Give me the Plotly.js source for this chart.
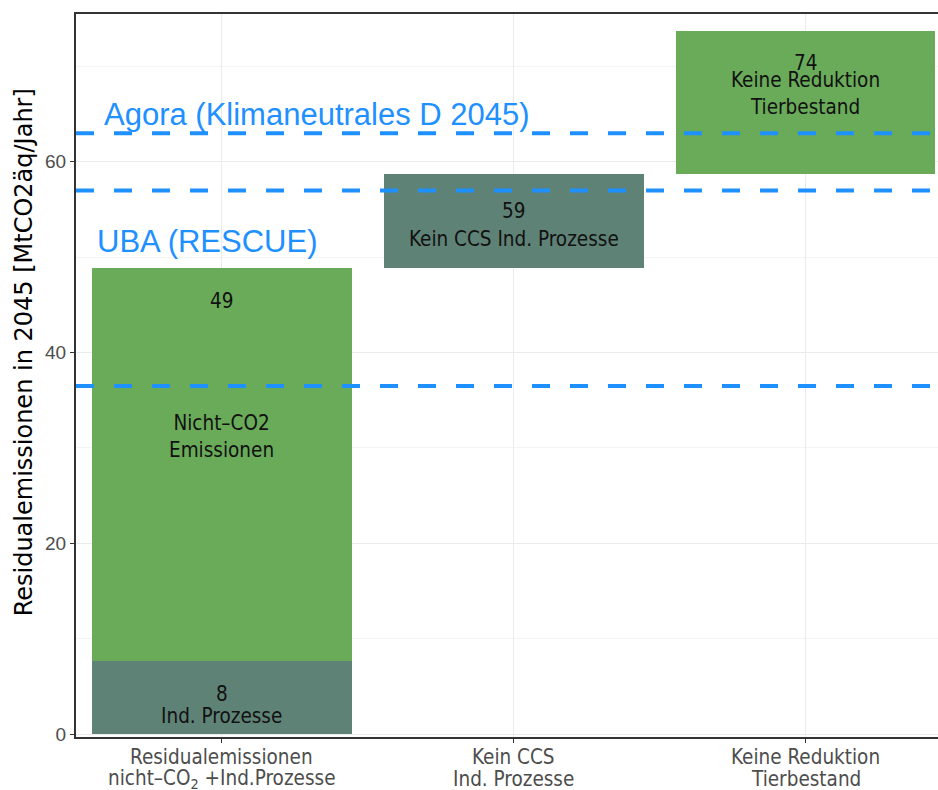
<!DOCTYPE html>
<html>
<head>
<meta charset="utf-8">
<script src="https://cdn.plot.ly/plotly-3.0.1.min.js"></script>
<style>
html,body{margin:0;padding:0;overflow:hidden;background:#fff;}
#chart{width:1000px;height:790px;}
</style>
</head>
<body>
<div id="chart"></div>
<script>
// ---- data ----
const categoryLine1 = ["Residualemissionen", "Kein CCS", "Keine Reduktion"];
const categoryLine2 = ["nicht–CO<sub>2</sub> +Ind.Prozesse", "Ind. Prozesse", "Tierbestand"];
const indProzesse = 7.7;      // dark part of first bar
const nichtCO2 = 41.2;        // green part of first bar
const keinCCS = 9.8;          // step 2
const tierbestand = 15.0;     // step 3
const refLines = [36.5, 57.0, 63.0];
const refNames = ["", "UBA (RESCUE)", "Agora (Klimaneutrales D 2045)"];

const total1 = indProzesse + nichtCO2;
const total2 = total1 + keinCCS;
const total3 = total2 + tierbestand;

const dark = "#5F8276";
const green = "#6AAB5A";
const blue = "#1E90FF";
const narrow = "DejaVu Sans Condensed, Liberation Sans Narrow, sans-serif";

const traces = [
  {type:"bar", x:[0,1], y:[indProzesse, keinCCS], base:[0, total1],
   width:0.89, marker:{color:dark}, hoverinfo:"skip", showlegend:false},
  {type:"bar", x:[0,2], y:[nichtCO2, tierbestand], base:[indProzesse, total2],
   width:0.89, marker:{color:green}, hoverinfo:"skip", showlegend:false}
];

const lf = {family:narrow, size:20.5, color:"#111"};
const tf = {family:narrow, size:20.5, color:"#4D4D4D"};
let annotations = [
  {x:0, y:total1-3.5, text:String(Math.round(total1)), font:lf},
  {x:0, y:31.2, text:"Nicht–CO2<br>Emissionen", font:lf},
  {x:0, y:indProzesse-3.5, text:String(Math.round(indProzesse)), font:lf},
  {x:0, y:indProzesse-5.8, text:"Ind. Prozesse", font:lf},
  {x:1, y:total2-3.9, text:String(Math.round(total2)), font:lf},
  {x:1, y:total2-6.8, text:"Kein CCS Ind. Prozesse", font:lf},
  {x:2, y:total3-3.3, text:String(Math.round(total3)), font:lf},
  {x:2, y:total3-6.5, text:"Keine Reduktion<br>Tierbestand", font:lf},
  {x:-0.41, xanchor:"left", y:refLines[2]+2.0, text:refNames[2],
   font:{family:"Liberation Sans, Arial, sans-serif", size:31, color:blue}},
  {x:-0.435, xanchor:"left", y:refLines[1]-5.3, text:refNames[1],
   font:{family:"Liberation Sans, Arial, sans-serif", size:31, color:blue}},
  {xref:"paper", x:0, xshift:-68, yref:"paper", y:0.532, textangle:-90,
   text:"Residualemissionen in 2045 [MtCO2äq/Jahr]",
   font:{family:"DejaVu Sans, sans-serif", size:24, color:"#000"}}
];
categoryLine1.forEach((t,i) => {
  annotations.push({x:i, yref:"paper", y:0, yshift:-20, text:t, font:tf});
  annotations.push({x:i, yref:"paper", y:0, yshift:-42, text:categoryLine2[i], font:tf});
});
annotations = annotations.map(a => Object.assign({showarrow:false, xref:"x", yref:"y", yanchor:"middle"}, a));

const shapes = refLines.map(v => ({
  type:"line", xref:"paper", x0:0, x1:1, yref:"y", y0:v, y1:v,
  line:{color:blue, width:4, dash:"18px,20px"}, layer:"above"
}));

const layout = {
  width:1000, height:790,
  margin:{l:76, r:34, t:14, b:53},
  paper_bgcolor:"#fff", plot_bgcolor:"#fff",
  barmode:"overlay", bargap:0,
  xaxis:{range:[-0.5,2.55], tickvals:[0,1,2], showticklabels:false,
    showgrid:true, gridcolor:"#EBEBEB", gridwidth:1,
    showline:true, mirror:true, linecolor:"#333", linewidth:2,
    ticks:"outside", ticklen:4, tickcolor:"#333", zeroline:false},
  yaxis:{range:[-0.3,75.5], tickvals:[0,20,40,60],
    showgrid:true, gridcolor:"#EBEBEB", gridwidth:1,
    minor:{tickvals:[10,30,50,70], showgrid:true, gridcolor:"#F4F4F4", gridwidth:1},
    showline:true, mirror:true, linecolor:"#333", linewidth:2,
    ticks:"outside", ticklen:4, tickcolor:"#333",
    tickfont:{family:"Liberation Sans, Arial, sans-serif", size:19, color:"#4D4D4D"},
    zeroline:false},
  annotations: annotations,
  shapes: shapes
};

Plotly.newPlot("chart", traces, layout, {staticPlot:true, displayModeBar:false});
</script>
</body>
</html>
